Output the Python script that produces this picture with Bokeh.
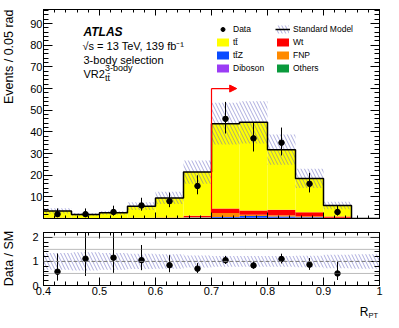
import numpy as np
from bokeh.plotting import figure
from bokeh.layouts import column, row
from bokeh.models import (Range1d, LinearAxis, FixedTicker, CustomJSTickFormatter,
                          CustomLabelingPolicy, Label, Legend, LegendItem, Arrow,
                          NormalHead, Span)
from bokeh.embed import file_html
from bokeh.resources import INLINE

# ---------------- data ----------------
bin_edges = [0.40, 0.45, 0.50, 0.55, 0.60, 0.65, 0.70, 0.75, 0.80, 0.85, 0.90, 0.95, 1.00]
others  = [0.05, 0.05, 0.05, 0.05, 0.05, 0.10, 0.20, 0.20, 0.20, 0.10, 0.05, 0.0]
diboson = [0.02, 0.02, 0.02, 0.03, 0.05, 0.05, 0.10, 0.10, 0.10, 0.10, 0.05, 0.0]
ttz     = [0.05, 0.05, 0.05, 0.10, 0.15, 0.30, 0.40, 0.80, 0.60, 0.40, 0.10, 0.0]
fnp     = [0.10, 0.03, 0.03, 0.05, 0.10, 0.20, 1.80, 0.60, 0.60, 0.40, 0.10, 0.0]
wt      = [0.08, 0.05, 0.05, 0.07, 0.15, 0.60, 2.10, 2.00, 2.50, 1.90, 0.60, 0.0]
ttbar   = [3.20, 1.60, 2.40, 5.40, 9.00, 20.2, 39.2, 40.7, 27.8, 15.6, 5.10, 0.0]
sm_rel_unc = [0.35, 0.38, 0.35, 0.32, 0.30, 0.25, 0.22, 0.22, 0.22, 0.24, 0.28, 0.30]

data        = [2, 2, 3, 6, 8, 15, 46, 37, 35, 16, 3, 0]
data_err_lo = [1.29, 1.29, 1.63, 2.38, 2.77, 3.83, 6.76, 6.06, 5.89, 3.96, 1.63, 0.0]
data_err_hi = [2.64, 2.64, 2.92, 3.58, 3.95, 4.95, 7.84, 7.15, 6.99, 5.08, 2.92, 0.0]

x_ticks = [0.4, 0.5, 0.6, 0.7, 0.8, 0.9, 1.0]
y_ticks = [10, 20, 30, 40, 50, 60, 70, 80, 90]
ratio_ticks = [0, 1, 2]
ratio_ref_dotted = [0.5, 1.5, 2.0]
ratio_ref_dashed = 1.0

cut_value = 0.70
arrow_height = 60.0
arrow_length = 0.045

components = [
    ("Others", others, "#0a9a3c"),
    ("Diboson", diboson, "#9b3cf5"),
    ("tt\u0304Z", ttz, "#0a4bff"),
    ("FNP", fnp, "#ff8a00"),
    ("Wt", wt, "#ff0000"),
    ("tt\u0304", ttbar, "#ffff00"),
]

FONT = "Liberation Sans"
HATCH_COLOR = "#6a6ac4"

edges = np.array(bin_edges)
left, right = edges[:-1], edges[1:]
centers = 0.5 * (left + right)
sm = np.sum([np.array(c[1]) for c in components], axis=0)
unc = sm * np.array(sm_rel_unc)
d = np.array(data, dtype=float)
dlo = np.array(data_err_lo)
dhi = np.array(data_err_hi)
has = d > 0

x_minor = list(np.round(np.arange(0.40, 1.0001, 0.02), 2))
y_minor = list(range(0, 97, 2))
r_minor = list(np.round(np.arange(0, 2.21, 0.2), 1))
xfmt = CustomJSTickFormatter(code="return (Math.abs(tick-1)<1e-9) ? '1' : tick.toFixed(1);")
HIDE = "for (const i of Array.from(indices)) { indices.unset(i) } return indices"

def style_axis(ax, tin, tmin, show_labels=True, standoff=1):
    ax.major_tick_in = tin
    ax.major_tick_out = 0
    ax.minor_tick_in = tmin
    ax.minor_tick_out = 0
    ax.axis_line_color = "black"
    ax.major_tick_line_color = "black"
    ax.minor_tick_line_color = "black"
    ax.major_label_text_font = FONT
    ax.major_label_text_color = "black"
    ax.major_label_standoff = standoff
    if show_labels:
        ax.major_label_text_font_size = "11px"
    else:
        ax.major_label_text_font_size = "0px"
        ax.major_label_standoff = 0
        ax.major_label_policy = CustomLabelingPolicy(code=HIDE)

TOP_H, RAT_H, XLAB_H, LAB_W = 222, 77, 20, 18
MAIN_W = 369

# ---------------- top panel ----------------
xr = Range1d(0.4, 1.0)
p = figure(width=MAIN_W, height=TOP_H, x_range=xr, y_range=Range1d(0, 96.5),
           output_backend="svg", toolbar_location=None,
           min_border_left=25, min_border_right=8, min_border_top=9, min_border_bottom=4)
p.grid.visible = False
p.outline_line_color = "black"

p.xaxis.ticker = FixedTicker(ticks=x_ticks, minor_ticks=x_minor)
style_axis(p.xaxis[0], 6, 3, show_labels=False)
p.yaxis.ticker = FixedTicker(ticks=y_ticks, minor_ticks=y_minor)
style_axis(p.yaxis[0], 9, 5, standoff=1)

top_ax = LinearAxis(ticker=FixedTicker(ticks=x_ticks, minor_ticks=x_minor))
style_axis(top_ax, 6, 3, show_labels=False)
p.add_layout(top_ax, "above")
right_ax = LinearAxis(ticker=FixedTicker(ticks=y_ticks, minor_ticks=y_minor))
style_axis(right_ax, 9, 5, show_labels=False)
p.add_layout(right_ax, "right")

bottom = np.zeros(len(left))
stack_r = {}
for name, vals, col in components:
    v = np.array(vals)
    stack_r[name] = p.quad(left=left, right=right, bottom=bottom, top=bottom + v,
                           fill_color=col, line_color=None)
    bottom = bottom + v

band = p.quad(left=left, right=right, bottom=sm - unc, top=sm + unc,
              fill_alpha=0, line_color=None, hatch_pattern="\\",
              hatch_color=HATCH_COLOR, hatch_scale=7, hatch_weight=0.8, hatch_alpha=0.7)
sm_line = p.step(x=edges, y=np.append(sm, 0.0), mode="after", line_color="black", line_width=1.5)

p.segment(x0=[cut_value], y0=[0], x1=[cut_value], y1=[arrow_height], line_color="red", line_width=1.2)
p.add_layout(Arrow(end=NormalHead(size=7, fill_color="red", line_color="red"),
                   x_start=cut_value, y_start=arrow_height,
                   x_end=cut_value + arrow_length, y_end=arrow_height,
                   line_color="red", line_width=1.2))

p.segment(x0=centers[has], y0=(d - dlo)[has], x1=centers[has], y1=(d + dhi)[has],
          line_color="black", line_width=1)
data_r = p.scatter(x=centers[has], y=d[has], size=5.5, fill_color="black", line_color="black")

def mk_legend(items, vx):
    return Legend(items=items, location=(vx, 145), orientation="vertical",
                  glyph_width=15, glyph_height=10, label_height=10, spacing=3,
                  label_standoff=3, padding=0, margin=0,
                  border_line_alpha=0, background_fill_alpha=0,
                  label_text_font=FONT, label_text_font_size="8.5px", label_text_color="black")

p.add_layout(mk_legend([LegendItem(label="Data", renderers=[data_r]),
                        LegendItem(label="tt\u0304", renderers=[stack_r["tt\u0304"]]),
                        LegendItem(label="tt\u0304Z", renderers=[stack_r["tt\u0304Z"]]),
                        LegendItem(label="Diboson", renderers=[stack_r["Diboson"]])], 172))
p.add_layout(mk_legend([LegendItem(label="Standard Model", renderers=[band, sm_line]),
                        LegendItem(label="Wt", renderers=[stack_r["Wt"]]),
                        LegendItem(label="FNP", renderers=[stack_r["FNP"]]),
                        LegendItem(label="Others", renderers=[stack_r["Others"]])], 232))

def lab(fig, text, x, y, size, style="normal", align="left", baseline="alphabetic", angle=0):
    fig.add_layout(Label(text=text, x=x, y=y, x_units="screen", y_units="screen",
                         text_font=FONT, text_font_size=size, text_font_style=style,
                         text_align=align, text_baseline=baseline, angle=angle,
                         text_color="black"))

lab(p, "ATLAS", 40, 186.5, "12px", style="bold italic")
lab(p, "\u221As = 13 TeV, 139 fb\u207B\u00B9", 39, 172.5, "11px")
lab(p, "3-body selection", 40, 159, "11px")
lab(p, "VR2", 40, 145, "11px")
lab(p, "3-body", 61.5, 151, "9px")
lab(p, "tt\u0304", 61.5, 141, "9px")

# ---------------- ratio panel ----------------
r = figure(width=MAIN_W, height=RAT_H, x_range=xr, y_range=Range1d(0, 2.2),
           output_backend="svg", toolbar_location=None,
           min_border_left=25, min_border_right=8, min_border_top=10, min_border_bottom=14)
r.grid.visible = False
r.outline_line_color = "black"
r.xaxis.ticker = FixedTicker(ticks=x_ticks, minor_ticks=x_minor)
r.xaxis.formatter = xfmt
style_axis(r.xaxis[0], 8, 4, standoff=1)
r.yaxis.ticker = FixedTicker(ticks=ratio_ticks, minor_ticks=r_minor)
style_axis(r.yaxis[0], 9, 5, standoff=5)

rtop = LinearAxis(ticker=FixedTicker(ticks=x_ticks, minor_ticks=x_minor))
style_axis(rtop, 6, 3, show_labels=False)
r.add_layout(rtop, "above")
rright = LinearAxis(ticker=FixedTicker(ticks=ratio_ticks, minor_ticks=r_minor))
style_axis(rright, 9, 5, show_labels=False)
r.add_layout(rright, "right")

for yv in ratio_ref_dotted:
    r.add_layout(Span(location=yv, dimension="width", line_color="#777777",
                      line_dash="1 1", line_width=1))
r.add_layout(Span(location=ratio_ref_dashed, dimension="width", line_color="#777777",
                  line_dash="4 2", line_width=1))

rel = np.array(sm_rel_unc)
r.quad(left=left, right=right, bottom=1 - rel, top=1 + rel, fill_alpha=0, line_color=None,
       hatch_pattern="\\", hatch_color=HATCH_COLOR, hatch_scale=7, hatch_weight=0.8, hatch_alpha=0.7)

ok = has & (sm > 0)
ratio = d[ok] / sm[ok]
r.segment(x0=centers[ok], y0=ratio - dlo[ok] / sm[ok], x1=centers[ok], y1=ratio + dhi[ok] / sm[ok],
          line_color="black", line_width=1)
r.scatter(x=centers[ok], y=ratio, size=5.5, fill_color="black", line_color="black")

# ---------------- label strips ----------------
def strip(w, h):
    f = figure(width=w, height=h, x_range=Range1d(0, 1), y_range=Range1d(0, 1),
               x_axis_type=None, y_axis_type=None, output_backend="svg",
               toolbar_location=None, min_border=0, outline_line_color=None)
    f.grid.visible = False
    return f

xf = strip(MAIN_W, XLAB_H)
lab(xf, "R", 325, 7.5, "12px", align="right")
lab(xf, "PT", 325, 4, "7.5px", align="left")

LH = TOP_H + RAT_H + XLAB_H
lf = strip(LAB_W, LH)
lab(lf, "Events / 0.05 rad", 1, LH - 9, "12.5px", align="right", baseline="top", angle=np.pi / 2)
lab(lf, "Data / SM", 1, LH - 258, "12.5px", align="center", baseline="top", angle=np.pi / 2)

layout = row(lf, column(p, r, xf, spacing=0), spacing=0)
open("out.html", "w").write(file_html(layout, INLINE))
